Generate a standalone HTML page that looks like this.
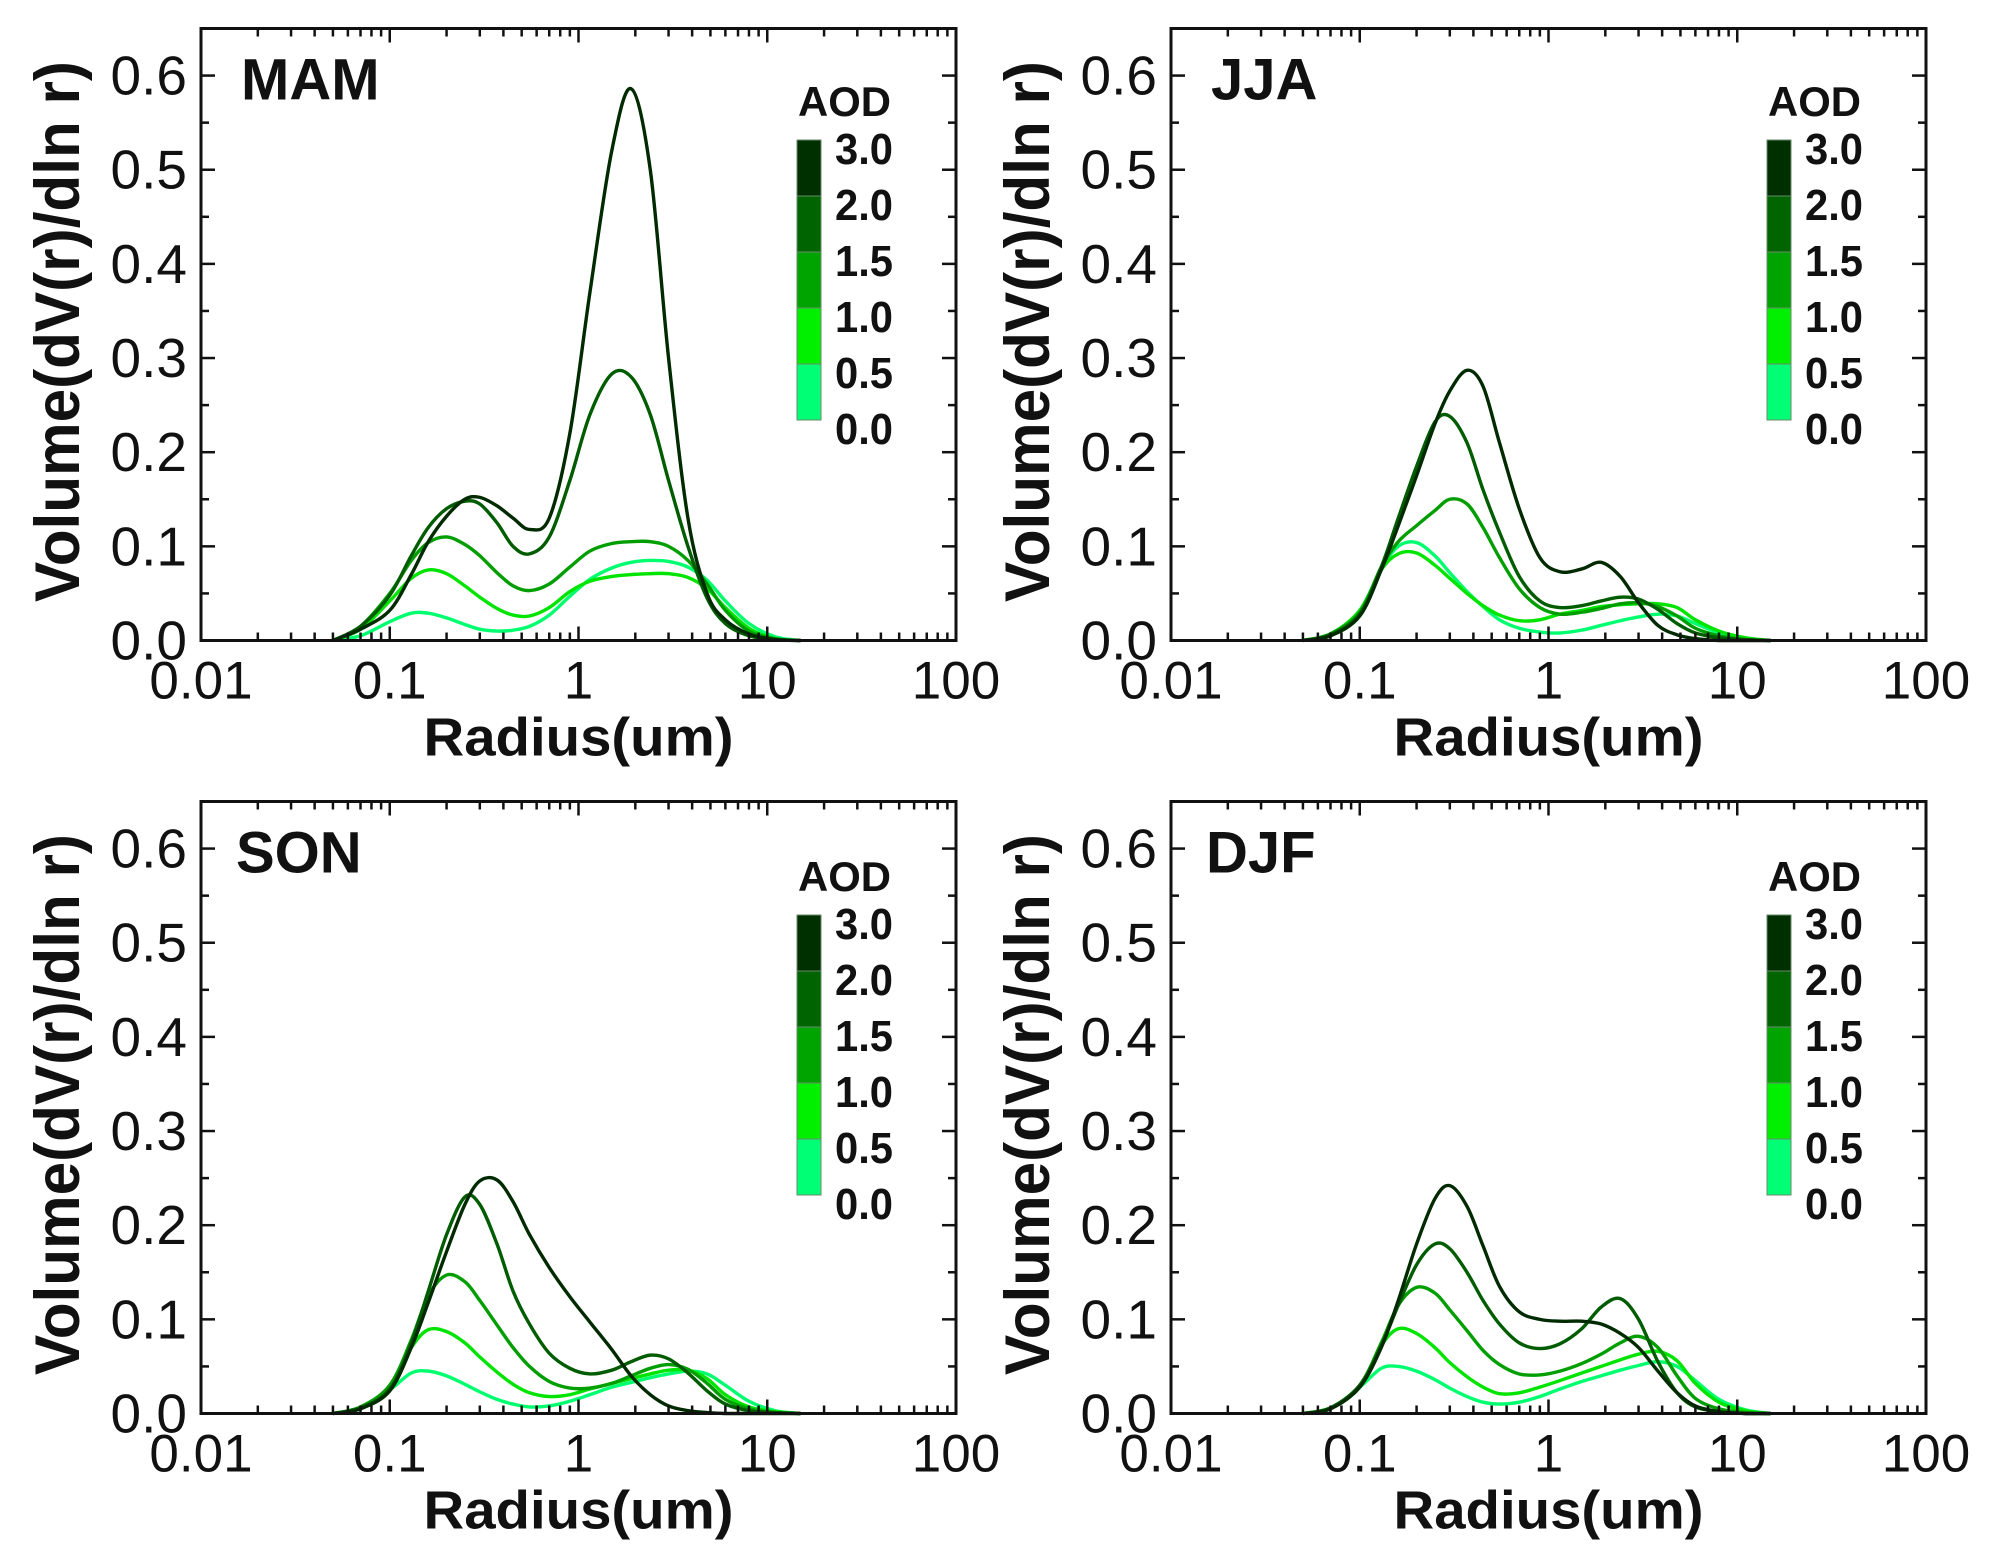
<!DOCTYPE html>
<html><head><meta charset="utf-8">
<style>
html,body{margin:0;padding:0;background:#fff;}
svg{display:block;}
text{font-family:"Liberation Sans",Arial,sans-serif;}
</style></head>
<body>
<svg id="fig" xmlns="http://www.w3.org/2000/svg" width="1990" height="1568" viewBox="0 0 1990 1568"></svg>
<script>
// ---- data ----
const radii = [0.05,0.07,0.1,0.13,0.16,0.2,0.25,0.3,0.37,0.45,0.55,0.7,0.9,1.15,1.5,1.9,2.4,3,3.8,4.8,6,8,11,15];
const xTickValues = [0.01,0.1,1,10,100];
const xTickLabels = ["0.01","0.1","1","10","100"];
const yTickValues = [0,0.1,0.2,0.3,0.4,0.5,0.6];
const yTickLabels = ["0.0","0.1","0.2","0.3","0.4","0.5","0.6"];
const aodLabels = ["3.0","2.0","1.5","1.0","0.5","0.0"];
const seasons = ["MAM","JJA","SON","DJF"];

const mam1 = [0,0.012,0.032,0.07,0.105,0.132,0.15,0.152,0.143,0.13,0.118,0.13,0.22,0.37,0.52,0.586,0.5,0.3,0.13,0.05,0.022,0.007,0.001,0];
const mam2 = [0,0.015,0.048,0.09,0.12,0.14,0.148,0.145,0.125,0.1,0.092,0.11,0.17,0.24,0.283,0.28,0.24,0.17,0.1,0.045,0.018,0.005,0.001,0];
const mam3 = [0,0.015,0.05,0.085,0.104,0.11,0.102,0.09,0.072,0.058,0.053,0.06,0.078,0.095,0.103,0.105,0.105,0.1,0.085,0.06,0.032,0.01,0.002,0];
const mam4 = [0,0.012,0.042,0.066,0.075,0.071,0.058,0.046,0.034,0.027,0.026,0.035,0.052,0.063,0.068,0.07,0.071,0.071,0.067,0.055,0.035,0.013,0.002,0];
const mam5 = [0,0.005,0.02,0.029,0.029,0.024,0.017,0.012,0.01,0.011,0.015,0.027,0.047,0.065,0.077,0.083,0.085,0.084,0.078,0.064,0.042,0.018,0.004,0];

const jja1 = [0,0.005,0.026,0.075,0.122,0.175,0.23,0.265,0.287,0.27,0.21,0.14,0.088,0.073,0.076,0.083,0.068,0.04,0.016,0.006,0.002,0,0,0];
const jja2 = [0,0.006,0.028,0.078,0.13,0.185,0.232,0.238,0.21,0.16,0.115,0.068,0.042,0.035,0.037,0.042,0.046,0.044,0.033,0.018,0.008,0.003,0.001,0];
const jja3 = [0,0.007,0.03,0.078,0.105,0.122,0.138,0.15,0.145,0.12,0.088,0.055,0.035,0.028,0.03,0.034,0.039,0.04,0.036,0.026,0.013,0.005,0.001,0];
const jja4 = [0,0.007,0.032,0.075,0.092,0.093,0.08,0.066,0.05,0.037,0.027,0.021,0.022,0.028,0.032,0.036,0.038,0.039,0.039,0.035,0.022,0.01,0.003,0];
const jja5 = [0,0.007,0.032,0.076,0.1,0.104,0.09,0.072,0.052,0.036,0.022,0.013,0.009,0.008,0.011,0.016,0.021,0.025,0.028,0.026,0.018,0.008,0.002,0];

const son1 = [0,0.005,0.024,0.07,0.118,0.172,0.222,0.247,0.248,0.225,0.19,0.155,0.124,0.097,0.068,0.04,0.02,0.008,0.003,0.001,0,0,0,0];
const son2 = [0,0.006,0.026,0.075,0.13,0.19,0.23,0.222,0.18,0.13,0.095,0.064,0.048,0.042,0.046,0.055,0.062,0.058,0.043,0.024,0.01,0.003,0.001,0];
const son3 = [0,0.007,0.03,0.078,0.125,0.147,0.14,0.12,0.094,0.07,0.05,0.034,0.027,0.027,0.032,0.04,0.048,0.052,0.047,0.032,0.015,0.005,0.001,0];
const son4 = [0,0.006,0.028,0.07,0.089,0.087,0.075,0.06,0.044,0.031,0.022,0.018,0.02,0.026,0.032,0.037,0.042,0.046,0.046,0.037,0.02,0.007,0.002,0];
const son5 = [0,0.005,0.025,0.043,0.045,0.04,0.031,0.023,0.015,0.01,0.007,0.008,0.013,0.02,0.028,0.033,0.038,0.042,0.045,0.042,0.03,0.013,0.003,0];

const djf1 = [0,0.005,0.028,0.07,0.12,0.18,0.228,0.242,0.22,0.178,0.135,0.108,0.1,0.098,0.098,0.095,0.085,0.07,0.045,0.022,0.008,0.002,0,0];
const djf2 = [0,0.006,0.03,0.072,0.115,0.158,0.18,0.175,0.15,0.12,0.095,0.075,0.069,0.074,0.09,0.113,0.122,0.1,0.055,0.022,0.007,0.002,0,0];
const djf3 = [0,0.006,0.03,0.075,0.115,0.134,0.128,0.11,0.088,0.067,0.052,0.042,0.041,0.045,0.053,0.063,0.075,0.082,0.07,0.04,0.016,0.005,0.001,0];
const djf4 = [0,0.006,0.028,0.072,0.09,0.085,0.07,0.054,0.039,0.028,0.021,0.022,0.028,0.035,0.043,0.05,0.057,0.063,0.066,0.056,0.032,0.012,0.003,0];
const djf5 = [0,0.005,0.028,0.048,0.05,0.045,0.036,0.027,0.018,0.012,0.01,0.012,0.018,0.026,0.034,0.04,0.046,0.051,0.055,0.05,0.035,0.015,0.004,0];

const seasonSeries = [[mam1,mam2,mam3,mam4,mam5],[jja1,jja2,jja3,jja4,jja5],[son1,son2,son3,son4,son5],[djf1,djf2,djf3,djf4,djf5]];

// ---- style ----
const curveColors = ["#002a00","#005c00","#009e00","#00e400","#00ff6e"];
const barColors = ["#003000","#006400","#00a400","#00f000","#00ff74"];
const panels = [{x:201,y:28.5},{x:1171,y:28.5},{x:201,y:801.5},{x:1171,y:801.5}];
const PW = 755, PH = 612, YMAX = 0.65;

const svg = document.getElementById('fig');
const NS = "http://www.w3.org/2000/svg";
function mk(tag, attrs, parent){
  const e = document.createElementNS(NS, tag);
  for (const k in attrs) e.setAttribute(k, attrs[k]);
  (parent||svg).appendChild(e);
  return e;
}

panels.forEach((p, pi) => {
  const g = mk('g', {});
  
  
  const L = p.x, T = p.y, R = L + PW, B = T + PH;
  const xs = v => L + (Math.log10(v) + 2) / 4 * PW;
  const ys = v => B - v / YMAX * PH;

  const series = seasonSeries[pi];
  for (let si = series.length - 1; si >= 0; si--) {
    const vals = series[si];
    const pts = radii.map((r, i) => [xs(r), ys(vals[i])]);
    let d = 'M' + pts[0][0].toFixed(2) + ',' + pts[0][1].toFixed(2);
    for (let i = 0; i < pts.length - 1; i++) {
      const p0 = pts[Math.max(0, i - 1)], p1 = pts[i], p2 = pts[i + 1], p3 = pts[Math.min(pts.length - 1, i + 2)];
      const c1x = p1[0] + (p2[0] - p0[0]) / 6, c1y = Math.min(B, p1[1] + (p2[1] - p0[1]) / 6);
      const c2x = p2[0] - (p3[0] - p1[0]) / 6, c2y = Math.min(B, p2[1] - (p3[1] - p1[1]) / 6);
      d += 'C' + c1x.toFixed(2) + ',' + c1y.toFixed(2) + ' ' + c2x.toFixed(2) + ',' + c2y.toFixed(2) + ' ' + p2[0].toFixed(2) + ',' + p2[1].toFixed(2);
    }
    const path = mk('path', {d: d, fill: 'none', stroke: curveColors[si], 'stroke-width': 3.4, 'stroke-linejoin': 'round'}, g);
    
    
  }

  const fr = mk('rect', {x: L, y: T, width: PW, height: PH, fill: 'none', stroke: '#111', 'stroke-width': 3}, g);
  
  

  for (let k = 0; k <= 13; k++) {
    const v = k * 0.05;
    const y = ys(v);
    const len = (k % 2 === 0) ? 14 : 8;
    mk('line', {x1: L, x2: L + len, y1: y, y2: y, stroke: '#111', 'stroke-width': 2.5}, g);
    mk('line', {x1: R, x2: R - len, y1: y, y2: y, stroke: '#111', 'stroke-width': 2.5}, g);
  }
  yTickValues.forEach((v, i) => {
    const t = mk('text', {x: L - 14, y: ys(v) + 19, 'font-size': 55, 'text-anchor': 'end', fill: '#111'}, g);
    t.textContent = yTickLabels[i];
    
    
  });

  for (let dec = -2; dec < 2; dec++) {
    for (let m = 1; m <= 9; m++) {
      const v = m * Math.pow(10, dec);
      const x = xs(v);
      const len = m === 1 ? 14 : 8;
      mk('line', {x1: x, x2: x, y1: B, y2: B - len, stroke: '#111', 'stroke-width': 2.5}, g);
      mk('line', {x1: x, x2: x, y1: T, y2: T + len, stroke: '#111', 'stroke-width': 2.5}, g);
    }
  }
  xTickValues.forEach((v, i) => {
    const t = mk('text', {x: xs(v), y: B + 58, 'font-size': 53, 'text-anchor': 'middle', fill: '#111'}, g);
    t.textContent = xTickLabels[i];
    
    
  });

  const xt = mk('text', {x: xs(1), y: B + 115, 'font-size': 54, 'font-weight': 'bold', 'text-anchor': 'middle', textLength: 310, lengthAdjust: 'spacingAndGlyphs', fill: '#111'}, g);
  xt.textContent = 'Radius(um)';
  
  
  const cy = (T + B) / 2 - 3;
  const yt = mk('text', {x: 0, y: 0, 'font-size': 63, 'font-weight': 'bold', 'text-anchor': 'middle', textLength: 541, lengthAdjust: 'spacingAndGlyphs', fill: '#111', transform: 'translate(' + (L - 122) + ',' + cy + ') rotate(-90)'}, g);
  yt.textContent = 'Volume(dV(r)/dln r)';
  
  

  const pl = mk('text', {x: L + (pi < 2 ? 40 : 35), y: T + 71, 'font-size': 58, 'font-weight': 'bold', fill: '#111'}, g);
  pl.textContent = seasons[pi];
  
  

  const lg = mk('g', {}, g);
  
  
  const bx = L + 596, by = T + (pi < 2 ? 111.5 : 113.5), bw = 24, segH = 56;
  const at = mk('text', {x: bx + 1, y: by - 24, 'font-size': 42, 'font-weight': 'bold', textLength: 93, lengthAdjust: 'spacingAndGlyphs', fill: '#111'}, lg);
  at.textContent = 'AOD';
  
  
  barColors.forEach((c, i) => {
    const r = mk('rect', {x: bx, y: by + i * segH, width: bw, height: segH, fill: c, stroke: '#6a8a6a', 'stroke-width': 1}, lg);
    
    
  });
  aodLabels.forEach((s, i) => {
    const t = mk('text', {x: bx + 38, y: by + i * segH + 24, 'font-size': 44, 'font-weight': 'bold', textLength: 58, lengthAdjust: 'spacingAndGlyphs', fill: '#111'}, lg);
    t.textContent = s;
    
    
  });
});
</script>
</body></html>
